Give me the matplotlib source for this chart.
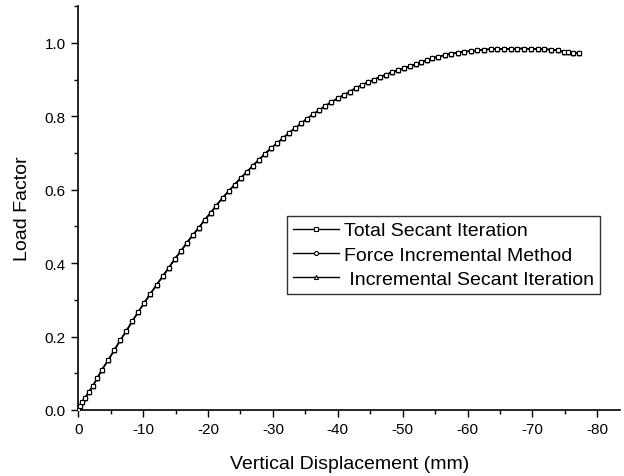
import matplotlib
matplotlib.use("Agg")
import matplotlib.pyplot as plt
from matplotlib.ticker import MultipleLocator

plt.rcParams['font.family'] = ['Liberation Sans', 'DejaVu Sans']

# Data (vertical displacement in mm, load factor)
disp = [0.0, -0.22, -0.62, -1.08, -1.65, -2.22, -2.93, -3.65, -4.62, -5.55, -6.47,
        -7.40, -8.32, -9.24, -10.17, -11.09, -12.08, -13.00, -13.93, -14.85, -15.77,
        -16.75, -17.67, -18.60, -19.52, -20.45, -21.26, -22.25, -23.17, -24.10, -25.02,
        -25.99, -26.92, -27.84, -28.77, -29.69, -30.62, -31.59, -32.51, -33.44, -34.36,
        -35.28, -36.21, -37.13, -38.06, -38.98, -39.97, -40.89, -41.82, -42.74, -43.67,
        -44.59, -45.52, -46.49, -47.41, -48.34, -49.26, -50.2, -51.1, -52.0, -52.9,
        -53.7, -54.6, -55.5, -56.5, -57.5, -58.6, -59.5, -60.5, -61.5, -62.6, -63.6,
        -64.6, -65.6, -66.7, -67.7, -68.7, -69.8, -70.8, -71.8, -72.8, -73.9, -74.9,
        -75.5, -76.3, -77.2]
load = [0.0, 0.010, 0.022, 0.034, 0.050, 0.065, 0.087, 0.110, 0.136, 0.163, 0.190,
        0.215, 0.242, 0.267, 0.292, 0.316, 0.341, 0.364, 0.387, 0.411, 0.432,
        0.456, 0.477, 0.497, 0.519, 0.538, 0.557, 0.578, 0.596, 0.614, 0.632,
        0.649, 0.666, 0.682, 0.698, 0.713, 0.727, 0.741, 0.756, 0.768, 0.781,
        0.794, 0.806, 0.817, 0.828, 0.839, 0.849, 0.858, 0.867, 0.877, 0.885,
        0.893, 0.900, 0.907, 0.914, 0.920, 0.926, 0.932, 0.937, 0.942, 0.947,
        0.954, 0.958, 0.963, 0.967, 0.971, 0.974, 0.976, 0.978, 0.980, 0.982, 0.983,
        0.984, 0.984, 0.984, 0.985, 0.985, 0.984, 0.984, 0.983, 0.982, 0.980, 0.976,
        0.975, 0.974, 0.972]

load_total_secant = load
load_force_incremental = load
load_incremental_secant = load

labels = ["Total Secant Iteration", "Force Incremental Method", " Incremental Secant Iteration"]

fig = plt.figure(figsize=(6.24, 4.77), dpi=100)
ax = fig.add_axes([0.1255, 0.1384, 0.868, 0.8463])

common = dict(color='black', linewidth=1.0, markersize=3.2, markerfacecolor='white',
              markeredgecolor='black', markeredgewidth=0.8)
h1, = ax.plot(disp, load_total_secant, marker='s', label=labels[0], zorder=4, **common)
h2, = ax.plot(disp, load_force_incremental, marker='o', label=labels[1], zorder=3, **common)
h3, = ax.plot(disp, load_incremental_secant, marker='^', label=labels[2], zorder=2, **common)

ax.set_xlim(0, -83.5)
ax.set_ylim(0, 1.1)
ax.xaxis.set_minor_locator(MultipleLocator(5))
ax.yaxis.set_minor_locator(MultipleLocator(0.1))
ax.set_xticks([0, -10, -20, -30, -40, -50, -60, -70, -80])
ax.set_xticklabels(['0', '-10', '-20', '-30', '-40', '-50', '-60', '-70', '-80'])
ax.set_yticks([0.0, 0.2, 0.4, 0.6, 0.8, 1.0])
ax.set_yticklabels(['0.0', '0.2', '0.4', '0.6', '0.8', '1.0'])

for s in ['top', 'right']:
    ax.spines[s].set_visible(False)
for s in ['left', 'bottom']:
    ax.spines[s].set_linewidth(1.2)

ax.tick_params(which='major', direction='out', length=5, width=1.0, labelsize=11, pad=4)
ax.tick_params(which='minor', direction='out', length=3, width=1.0)

ax.set_xlabel('Vertical Displacement (mm)', fontsize=14, labelpad=13)
ax.set_ylabel('Load Factor', fontsize=14, labelpad=10)

leg = fig.legend(handles=[h1, h2, h3], loc='upper right',
                 bbox_to_anchor=(600 / 624, 1 - 217 / 477), borderaxespad=0,
                 fontsize=14, frameon=True, fancybox=False, shadow=False,
                 handlelength=2.4, handletextpad=0.25, borderpad=0.3, labelspacing=0.35,
                 markerscale=0.9)
leg.get_frame().set_edgecolor('black')
leg.get_frame().set_linewidth(1.0)

fig.savefig('out.png', dpi=100)
